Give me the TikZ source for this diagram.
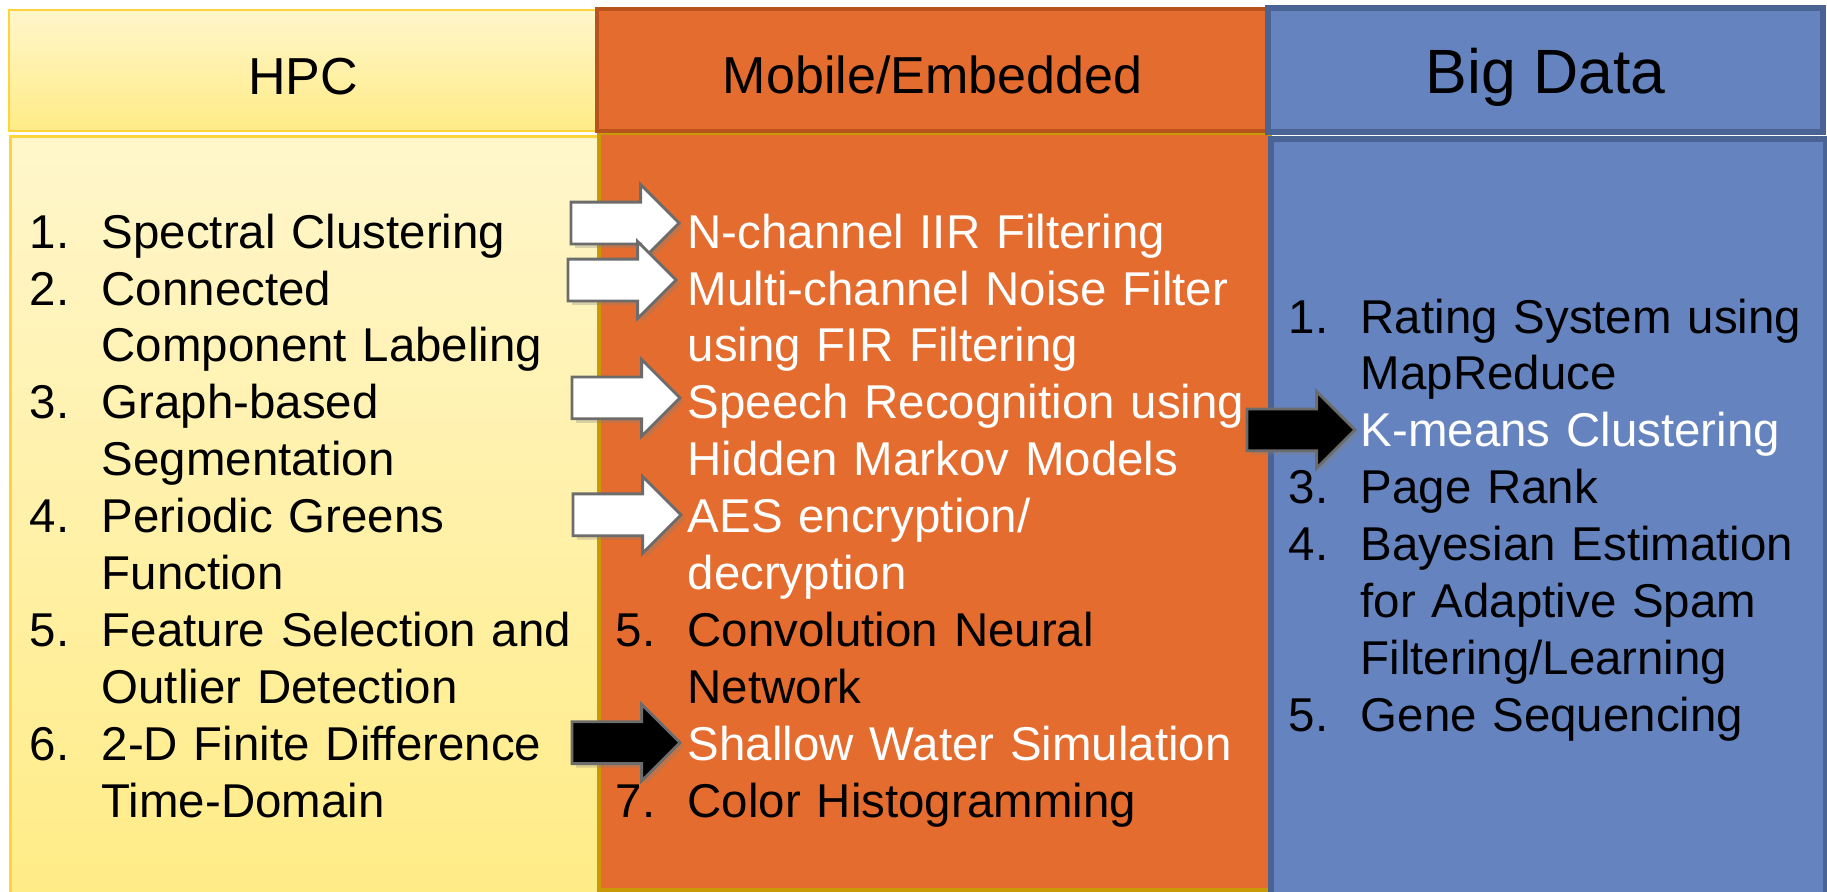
\documentclass[tikz,border=0pt]{standalone}
\usepackage{fontspec}
\setmainfont{Liberation Sans}
\usetikzlibrary{shapes.arrows, positioning, shadows}

\definecolor{hpclight}{HTML}{FFF6CB}
\definecolor{hpcdeep}{HTML}{FFEC86}
\definecolor{hpcline}{HTML}{FFD43B}
\definecolor{goldline}{HTML}{C99A06}
\definecolor{mobfill}{HTML}{E46C2F}
\definecolor{mobline}{HTML}{B8531E}
\definecolor{bigfill}{HTML}{6583BE}
\definecolor{bigline}{HTML}{4A6395}

\begin{document}
\begin{tikzpicture}[
    head/.style={rectangle, draw, inner sep=0pt, text height=0.47cm, text depth=0pt, font=\fontsize{14.8pt}{17pt}\selectfont},
    colbody/.style={rectangle, draw, inner sep=0pt, anchor=north west},
    item/.style={anchor=base west, inner sep=0pt, text width=6.5cm, align=left, font=\fontsize{13.5pt}{16.2pt}\selectfont},
    hot/.style={item, text=white},
    num/.style={anchor=base west, inner sep=0pt, font=\fontsize{13.5pt}{16.2pt}\selectfont},
    blockarrow/.style={single arrow, draw=gray!85!black, line width=0.8pt, inner xsep=0pt, inner ysep=0.195cm,
        minimum height=1.08cm, minimum width=0.74cm, single arrow head extend=0.175cm, anchor=tip,
        drop shadow={shadow xshift=0.04cm, shadow yshift=-0.04cm, opacity=0.3}},
    warrow/.style={blockarrow, fill=white},
    karrow/.style={blockarrow, fill=black},
]
\useasboundingbox (0,0) rectangle (18.27,8.91);

% Column bodies
\node[colbody, top color=hpclight, bottom color=hpcdeep, draw=hpcline, line width=0.85pt,
    minimum width=5.88cm, minimum height=7.66cm] (hpcbody) at (0.09,7.56) {};
\node[colbody, fill=mobfill, draw=goldline, line width=1.1pt,
    minimum width=6.71cm, minimum height=7.57cm] (mobbody) at (5.97,7.60) {};
\node[colbody, fill=bigfill, draw=bigline, line width=1.6pt,
    minimum width=5.55cm, minimum height=7.65cm] (bigbody) at (12.68,7.55) {};

% Column headers
\node[head, top color=hpclight, bottom color=hpcdeep, draw=hpcline, line width=0.85pt,
    minimum width=5.88cm, minimum height=1.21cm] (hpchead) at (3.03,8.205) {HPC};
\node[head, fill=mobfill, draw=mobline, line width=1.4pt,
    minimum width=6.71cm, minimum height=1.22cm] (mobhead) at (9.325,8.21) {Mobile/Embedded};
\node[head, fill=bigfill, draw=bigline, line width=1.6pt, font=\fontsize{17.8pt}{20pt}\selectfont,
    minimum width=5.55cm, minimum height=1.24cm] (bighead) at (15.455,8.21) {Big Data};

% HPC list
\node[item] (h1) at (1.01,6.430) {Spectral Clustering};
\node[item] (h2) at (1.01,5.860) {Connected\\Component Labeling};
\node[item] (h3) at (1.01,4.721) {Graph-based\\Segmentation};
\node[item] (h4) at (1.01,3.582) {Periodic Greens\\Function};
\node[item] (h5) at (1.01,2.442) {Feature Selection and\\Outlier Detection};
\node[item] (h6) at (1.01,1.303) {2-D Finite Difference\\Time-Domain};
\node[num] (h1n) at ([xshift=-0.72cm]h1.base west) {1.};
\node[num] (h2n) at ([xshift=-0.72cm]h2.base west) {2.};
\node[num] (h3n) at ([xshift=-0.72cm]h3.base west) {3.};
\node[num] (h4n) at ([xshift=-0.72cm]h4.base west) {4.};
\node[num] (h5n) at ([xshift=-0.72cm]h5.base west) {5.};
\node[num] (h6n) at ([xshift=-0.72cm]h6.base west) {6.};

% Mobile/Embedded list
\node[hot] (m1) at (6.87,6.430) {N-channel IIR Filtering};
\node[hot] (m2) at (6.87,5.860) {Multi-channel Noise Filter\\using FIR Filtering};
\node[hot] (m3) at (6.87,4.721) {Speech Recognition using\\Hidden Markov Models};
\node[hot] (m4) at (6.87,3.582) {AES encryption/\\decryption};
\node[item] (m5) at (6.87,2.442) {Convolution Neural\\Network};
\node[hot] (m6) at (6.87,1.303) {Shallow Water Simulation};
\node[item] (m7) at (6.87,0.733) {Color Histogramming};
\node[num] (m5n) at ([xshift=-0.72cm]m5.base west) {5.};
\node[num] (m7n) at ([xshift=-0.72cm]m7.base west) {7.};

% Big Data list
\node[item, text width=4.6cm] (b1) at (13.60,5.580) {Rating System using\\MapReduce};
\node[hot, text width=4.6cm] (b2) at (13.60,4.441) {K-means Clustering};
\node[item, text width=4.6cm] (b3) at (13.60,3.871) {Page Rank};
\node[item, text width=4.6cm] (b4) at (13.60,3.301) {Bayesian Estimation\\for Adaptive Spam\\Filtering/Learning};
\node[item, text width=4.6cm] (b5) at (13.60,1.592) {Gene Sequencing};
\node[num] (b1n) at ([xshift=-0.72cm]b1.base west) {1.};
\node[num] (b3n) at ([xshift=-0.72cm]b3.base west) {3.};
\node[num] (b4n) at ([xshift=-0.72cm]b4.base west) {4.};
\node[num] (b5n) at ([xshift=-0.72cm]b5.base west) {5.};

% Block arrows
\node[warrow] (a1) at ([shift={(-0.06,0.25)}]m1.base west) {};
\node[warrow] (a2) at ([shift={(-0.09,0.25)}]m2.base west) {};
\node[warrow] (a3) at ([shift={(-0.05,0.21)}]m3.base west) {};
\node[warrow] (a4) at ([shift={(-0.04,0.18)}]m4.base west) {};
\node[karrow] (a6) at ([shift={(-0.05,0.18)}]m6.base west) {};
\node[karrow] (ak) at ([shift={(-0.03,0.17)}]b2.base west) {};

\end{tikzpicture}
\end{document}
